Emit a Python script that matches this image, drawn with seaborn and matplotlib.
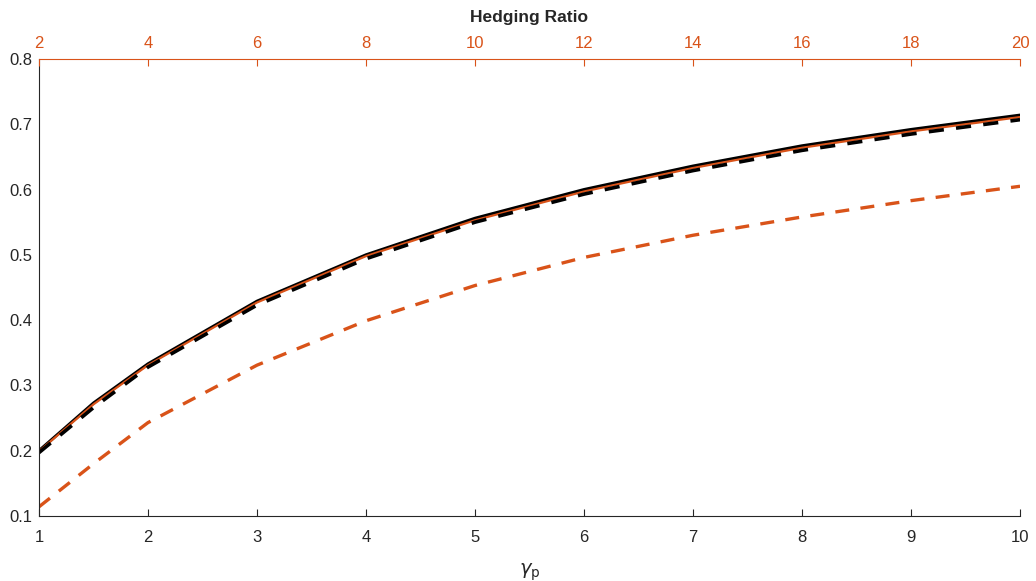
import numpy as np
import pandas as pd
import seaborn as sns
import matplotlib.pyplot as plt

# Values
gamma_p = [1, 1.5, 2, 3, 4, 5, 6, 7, 8, 9, 10]
black_solid = [0.200, 0.273, 0.333, 0.429, 0.500, 0.556, 0.600, 0.636, 0.667, 0.692, 0.714]
orange_solid = [0.199, 0.271, 0.331, 0.427, 0.498, 0.553, 0.597, 0.633, 0.664, 0.689, 0.711]
black_dashed = [0.197, 0.266, 0.328, 0.423, 0.494, 0.550, 0.593, 0.629, 0.660, 0.685, 0.707]
orange_dashed = [0.114, 0.180, 0.243, 0.331, 0.399, 0.453, 0.496, 0.530, 0.558, 0.583, 0.605]
hedging_ticks = [2, 4, 6, 8, 10, 12, 14, 16, 18, 20]

orange = '#D95319'

sns.set_style('white')
plt.rcParams['font.family'] = ['Liberation Sans', 'DejaVu Sans']
plt.rcParams['mathtext.fontset'] = 'dejavusans'

fig = plt.figure(figsize=(10.36, 5.81), dpi=100)
ax = fig.add_axes([0.0376, 0.1119, 0.947, 0.7866])

df = pd.DataFrame({'gamma_p': gamma_p, 'black_solid': black_solid,
                   'orange_solid': orange_solid, 'black_dashed': black_dashed,
                   'orange_dashed': orange_dashed})

dash = (0, (4.2, 3.4))
sns.lineplot(data=df, x='gamma_p', y='black_solid', color='black', lw=2.2, ax=ax)
sns.lineplot(data=df, x='gamma_p', y='orange_solid', color=orange, lw=1.6, ax=ax)
sns.lineplot(data=df, x='gamma_p', y='black_dashed', color='black', lw=2.6,
             linestyle=dash, ax=ax)
sns.lineplot(data=df, x='gamma_p', y='orange_dashed', color=orange, lw=2.4,
             linestyle=dash, ax=ax)

ax.set_xlim(1, 10)
ax.set_ylim(0.1, 0.8)
ax.set_xticks(range(1, 11))
ax.set_yticks(np.arange(0.1, 0.81, 0.1))
ax.set_yticklabels([f'{v:.1f}' for v in np.arange(0.1, 0.81, 0.1)])
ax.set_xlabel(r'$\gamma_\mathrm{p}$', fontsize=14, color='#262626', labelpad=12)
ax.set_ylabel('')
ax.tick_params(direction='in', length=5, width=0.8, labelsize=12, colors='#262626')
ax.tick_params(axis='x', pad=10)
ax.tick_params(axis='y', pad=5)
for s in ['top', 'right']:
    ax.spines[s].set_visible(False)
for s in ['left', 'bottom']:
    ax.spines[s].set_color('#262626')
    ax.spines[s].set_linewidth(0.8)

ax2 = ax.twiny()
ax2.set_xlim(2, 20)
ax2.set_xticks(hedging_ticks)
ax2.tick_params(direction='in', length=5, width=0.8, labelsize=12, colors=orange, pad=6)
for s in ['bottom', 'left', 'right']:
    ax2.spines[s].set_visible(False)
ax2.spines['top'].set_color(orange)
ax2.spines['top'].set_linewidth(0.8)
ax2.set_xlabel('Hedging Ratio', fontsize=12.5, fontweight='bold', labelpad=10)

fig.savefig('out.png', dpi=100)
